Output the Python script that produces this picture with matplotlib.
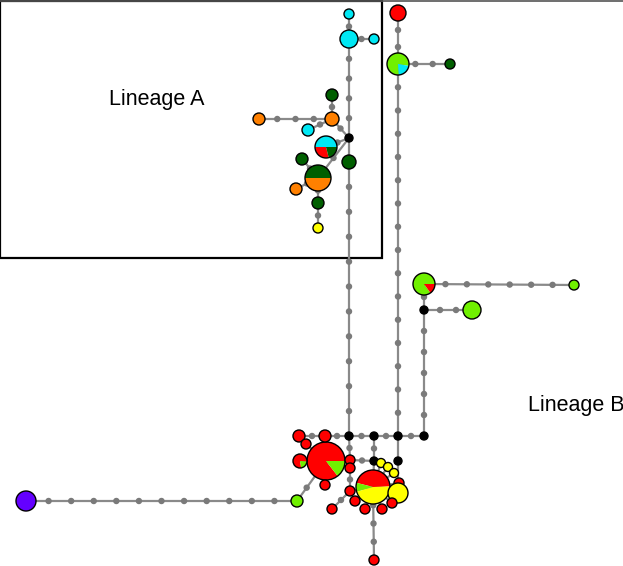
import matplotlib
matplotlib.use("Agg")
import matplotlib.pyplot as plt
from matplotlib.patches import Circle, Wedge, Rectangle

# haplotype groups and their colours
pop_colors = {
    "R": "#ff0000",   # red
    "G": "#70f000",   # light green
    "C": "#00e8f4",   # cyan
    "D": "#005f00",   # dark green
    "O": "#ff8000",   # orange
    "Y": "#ffff00",   # yellow
    "P": "#6400ff",   # purple
    "M": "#000000",   # median vector
}

# network nodes: id, layout position (pixels), radius, composition
node_ids = ["a1", "a2", "a3", "m1", "a5", "a6", "a7", "a8", "a9", "a10", "a11", "a12", "a13", "a14", "a15",
            "b1", "b2", "b3", "b4", "b5", "m2", "b6", "m3", "m4", "m5", "m6",
            "c4", "c1", "c2", "c3", "c5", "c6", "c7", "c8", "c9", "c10", "m7", "m8",
            "d1", "d6", "d5", "d2", "d3", "d4", "d7", "d8", "d9", "d10", "d11", "d12", "d13"]
node_x = [349, 349, 374, 349, 349, 332, 332, 259, 308, 326, 302, 318, 296, 318, 318,
          398, 398, 450, 424, 574, 424, 472, 349, 374, 398, 424,
          326, 325, 299, 306, 300, 325, 350, 350, 297, 26, 374, 398,
          373, 399, 398, 381, 388, 394, 392, 382, 365, 355, 350, 332, 374]
node_y = [14, 39, 39, 138, 162, 119, 95, 119, 130, 147, 159, 178, 189, 203, 228,
          13, 64, 64, 284, 285, 310, 310, 436, 436, 436, 436,
          461, 436, 436, 444, 461, 485, 460, 468, 501, 501, 461, 461,
          487, 483, 493, 463, 467, 473, 503, 509, 509, 501, 491, 509, 560]
node_r = [5, 9, 5, 4, 7, 7, 6, 6, 6, 11, 6, 13, 6, 6, 5,
          8, 11, 5, 11, 5, 4, 9, 4, 4, 4, 4,
          19, 6, 6, 5, 7, 5, 5, 5, 6, 10, 4, 4,
          17, 5, 10, 4.5, 4.5, 4.5, 5, 5, 5, 5, 5, 5, 5]
# pie nodes: start angle (deg, counter-clockwise as seen) and group shares
node_mix = {
    "a10": (0, [("C", 0.50), ("R", 0.29), ("D", 0.21)]),
    "a12": (0, [("D", 0.50), ("O", 0.50)]),
    "b2": (350, [("G", 0.79), ("C", 0.21)]),
    "b4": (0, [("G", 0.85), ("R", 0.15)]),
    "c4": (0, [("R", 0.855), ("G", 0.145)]),
    "c5": (355, [("R", 0.79), ("G", 0.21)]),
    "d1": (2, [("R", 0.455), ("G", 0.085), ("Y", 0.46)]),
}
node_pop = ["C", "C", "C", "M", "D", "O", "D", "O", "C", None, "D", None, "O", "D", "Y",
            "R", None, "D", None, "G", "M", "G", "M", "M", "M", "M",
            None, "R", "R", "R", None, "R", "R", "R", "G", "P", "M", "M",
            None, "R", "Y", "Y", "Y", "Y", "R", "R", "R", "R", "R", "R", "R"]

# links: (from, to, number of mutation steps)
edges = [("a1", "a2", 1), ("a2", "a3", 1), ("a2", "m1", 4), ("m1", "a5", 0), ("a5", "m3", 10),
         ("m1", "a6", 1), ("a6", "a7", 1), ("a6", "a8", 3), ("a6", "a9", 1), ("m1", "a10", 1),
         ("m1", "a12", 1), ("a11", "a12", 1), ("a12", "a13", 1), ("a12", "a14", 1), ("a14", "a15", 1),
         ("b1", "b2", 2), ("b2", "b3", 2), ("b2", "m5", 15), ("b4", "b5", 6), ("b4", "m2", 1),
         ("m2", "b6", 2), ("m2", "m6", 5),
         ("m3", "m4", 1), ("m4", "m5", 1), ("m5", "m6", 1), ("m3", "c1", 1), ("c1", "c2", 1),
         ("c1", "c4", 0), ("c3", "c4", 0), ("c5", "c4", 0), ("c6", "c4", 0), ("c7", "c4", 0),
         ("c8", "c4", 0), ("c9", "c4", 2), ("c10", "c9", 11), ("m3", "c7", 1), ("m4", "m7", 1),
         ("m5", "m8", 0), ("m7", "c7", 1), ("m7", "d1", 0), ("m8", "d5", 0),
         ("d1", "d2", 0), ("d1", "d3", 0), ("d1", "d4", 0), ("d1", "d5", 0), ("d1", "d6", 0),
         ("d1", "d7", 0), ("d1", "d8", 0), ("d1", "d9", 0), ("d1", "d10", 0), ("d1", "d11", 0),
         ("c8", "d11", 1), ("d12", "d11", 1), ("d1", "d13", 3)]

W, H = 623, 566
fig = plt.figure(figsize=(W / 100, H / 100), dpi=100)
ax = fig.add_axes([0, 0, 1, 1])
ax.set_xlim(0, W)
ax.set_ylim(H, 0)
ax.axis("off")

pos = {n: (x, y) for n, x, y in zip(node_ids, node_x, node_y)}

# links with mutation steps as small grey dots
for a, b, k in edges:
    (x0, y0), (x1, y1) = pos[a], pos[b]
    ax.plot([x0, x1], [y0, y1], color="#8a8a8a", lw=1.6, zorder=1, solid_capstyle="butt")
    for i in range(1, k + 1):
        t = i / (k + 1)
        ax.add_patch(Circle((x0 + t * (x1 - x0), y0 + t * (y1 - y0)), 2.5,
                            color="#7a7a7a", zorder=2))

# haplotype circles / pies (y axis is flipped, so angles are negated)
for i, n in enumerate(node_ids):
    x, y, r = node_x[i], node_y[i], node_r[i]
    z = 3 + i * 0.01
    if n in node_mix:
        start, parts = node_mix[n]
        ang = start
        for pop, frac in parts:
            ax.add_patch(Wedge((x, y), r, -(ang + frac * 360), -ang, facecolor=pop_colors[pop],
                               edgecolor="none", zorder=z))
            ang += frac * 360
        ax.add_patch(Circle((x, y), r, facecolor="none", edgecolor="black", lw=1.0, zorder=z + 0.005))
    else:
        ax.add_patch(Circle((x, y), r, facecolor=pop_colors[node_pop[i]], edgecolor="black",
                            lw=1.0, zorder=z))

# lineage A box and top border
ax.add_patch(Rectangle((0, 0.5), 382, 257.5, facecolor="none", edgecolor="black", lw=1.6, zorder=0.5))
ax.plot([0, W], [0.5, 0.5], color="#555555", lw=1.2, zorder=0.5)

ax.text(157, 100, "Lineage A", fontsize=15.5, family=["Liberation Sans", "DejaVu Sans"],
        ha="center", va="center")
ax.text(528, 405, "Lineage B", fontsize=15.5, family=["Liberation Sans", "DejaVu Sans"],
        ha="left", va="center")

fig.savefig("out.png", dpi=100)
